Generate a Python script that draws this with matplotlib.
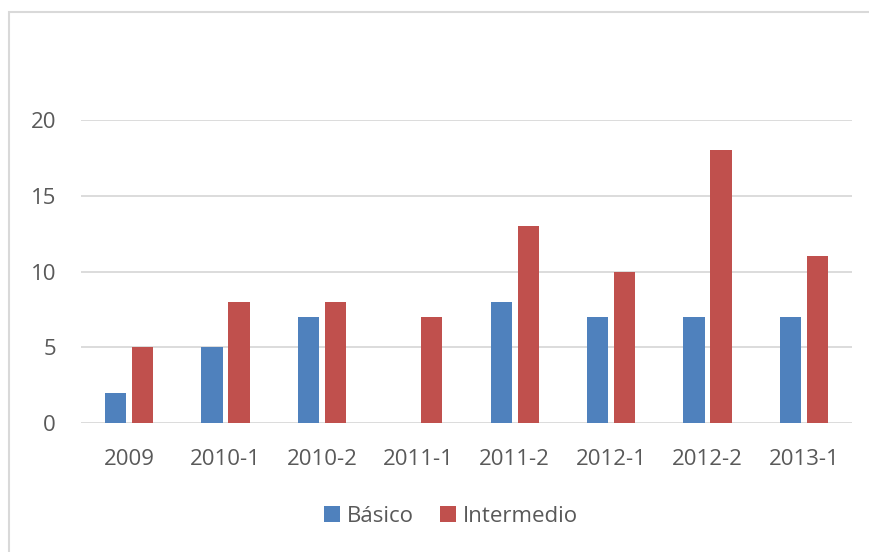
import matplotlib.pyplot as plt
import numpy as np
from matplotlib.patches import Rectangle

# data
periods = ["2009", "2010-1", "2010-2", "2011-1", "2011-2", "2012-1", "2012-2", "2013-1"]
basico = [2, 5, 7, 0, 8, 7, 7, 7]
intermedio = [5, 8, 8, 7, 13, 10, 18, 11]
y_ticks = [0, 5, 10, 15, 20]

blue = "#4F81BD"
red = "#C0504D"
grey_text = "#595959"
grid_col = "#D9D9D9"

plt.rcParams["font.family"] = ["Open Sans", "DejaVu Sans"]

W, H = 870, 552
fig = plt.figure(figsize=(W / 100, H / 100), dpi=100)

# light frame round the chart (Excel chart border)
fig.patches.append(Rectangle((9 / W, -0.1), 2, 1.1 - 12 / H, transform=fig.transFigure,
                             fill=False, edgecolor="#D9D9D9", linewidth=1.5))

ax = fig.add_axes([81 / W, 1 - 423 / H, (852 - 81) / W, (423 - 120) / H])

x = np.arange(len(periods))
bw = 0.22
ax.bar(x - 0.14, basico, bw, color=blue, label="Básico", zorder=3)
ax.bar(x + 0.14, intermedio, bw, color=red, label="Intermedio", zorder=3)

ax.set_xlim(-0.5, len(periods) - 0.5)
ax.set_ylim(0, 20)
ax.set_yticks(y_ticks)
ax.set_xticks(x)
ax.set_xticklabels(periods)

# gridlines
for yv in y_ticks:
    ax.axhline(yv, color=grid_col, linewidth=1.3, zorder=1)

for s in ax.spines.values():
    s.set_visible(False)

ax.tick_params(axis="both", length=0, labelsize=16, labelcolor=grey_text)
ax.tick_params(axis="y", pad=18)
ax.tick_params(axis="x", pad=19)

leg = fig.legend(loc="center", bbox_to_anchor=(451 / W, 1 - 516 / H), ncol=2,
                 frameon=False, fontsize=16, handlelength=0.7, handleheight=0.7,
                 handletextpad=0.3, columnspacing=1.2)
for t in leg.get_texts():
    t.set_color(grey_text)

fig.savefig("out.png", dpi=100)
